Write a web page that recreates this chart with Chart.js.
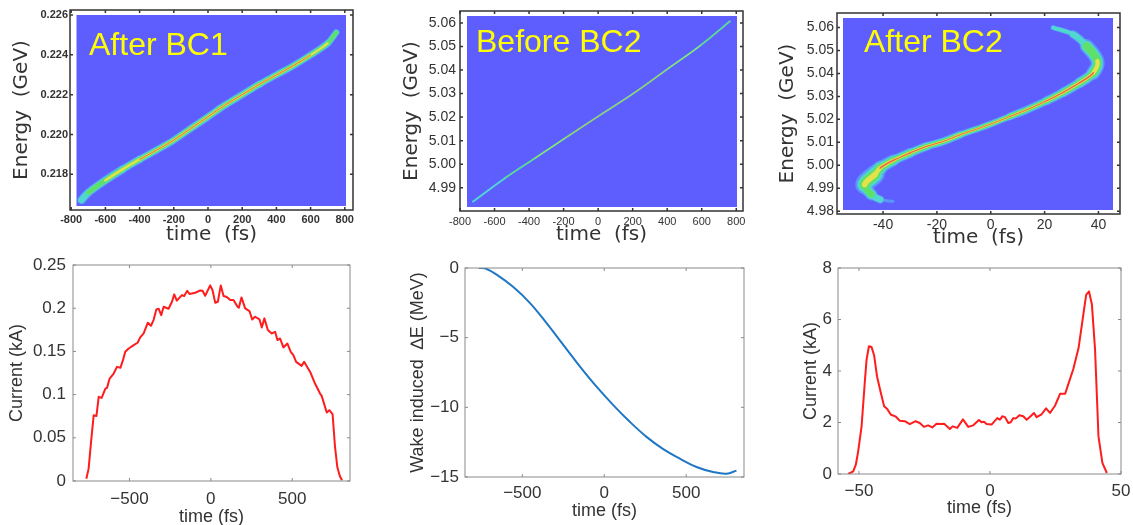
<!DOCTYPE html>
<html>
<head>
<meta charset="utf-8">
<script src="https://cdn.jsdelivr.net/npm/chart.js@4"></script>
<style>
html,body{margin:0;background:#fff;overflow:hidden}
#wrap{position:relative;width:1133px;height:525px;overflow:hidden}
.box{position:absolute}
.box canvas{filter:blur(.45px)}
.box.soft canvas{filter:blur(.5px)}
</style>
</head>
<body>
<div id="wrap"></div>
<script>
"use strict"
// phase space, After BC1
const t1 = [-740,-700,-600,-500,-400,-300,-200,-100,0,100,200,300,400,500,600,700,750]
const e1 = [.21671,.21708,.21770,.21825,.21875,.21922,.21972,.22031,.22089,.22148,.22200,.22252,.22299,.22346,.22399,.22458,.22512]
const spread1 = [.00042,.00042,.00042,.0004,.00038,.00038,.00038,.00038,.00038,.00038,.00038,.00036,.00036,.00036,.00036,.00034,.00026]
const density1 = [.2,.3,.55,.6,.75,.8,.9,.95,1,1,1,.95,.9,.75,.55,.35,.15]
// phase space, Before BC2
const t2 = [-725,-541,-367,-193,10,203,397,590,763]
const e2 = [4.9841,4.9940,5.0025,5.0110,5.0208,5.0300,5.0402,5.0503,5.0607]
const spread2 = [.0009,.0008,.0008,.0008,.0008,.0008,.0008,.0008,.0009]
const density2 = [.15,.4,.55,.75,.75,.75,.6,.4,.15]
// phase space, After BC2
const t3 = [-36.3,-41.1,-44.3,-46.8,-43.0,-41.1,-36.1,-29.9,-23.7,-17.6,-11.4,-5.2,1.0,7.2,13.4,20.8,27.0,33.1,38.1,39.6,35.6,30.6,23.2]
const e3 = [4.9843,4.9851,4.9873,4.9916,4.9960,4.9988,5.0022,5.0054,5.0083,5.0104,5.0133,5.0158,5.0184,5.0213,5.0242,5.0281,5.0318,5.0360,5.0403,5.0454,5.0519,5.0570,5.0599]
const spread3 = [.0013,.0035,.0052,.0083,.0065,.0052,.0043,.0039,.0035,.0035,.003,.003,.003,.0035,.0035,.0039,.0043,.0048,.0061,.0061,.0035,.0022,.0013]
const density3 = [.05,.15,.3,.5,.6,.72,.8,.85,.9,.9,.9,.9,.9,.9,.9,.9,.9,.85,.6,.45,.25,.15,.05]
// current profile, After BC1
const t4 = [-765,-751,-736,-720,-703,-689,-671,-648,-638,-622,-597,-577,-556,-540,-526,-505,-474,-450,-434,-413,-387,-368,-352,-335,-321,-305,-290,-260,-239,-225,-209,-178,-164,-145,-131,-96,-65,-51,-35,-4,10,27,43,61,78,98,119,139,164,172,188,211,237,254,272,299,313,329,350,374,395,409,425,446,470,491,507,524,558,573,613,640,671,681,712,728,748,763,777,793,806]
const i4 = [.0027,.0143,.0452,.0761,.0753,.0974,.0962,.1070,.1078,.1186,.1244,.1321,.1310,.1399,.1495,.1534,.1573,.1600,.1662,.1708,.1832,.1797,.1862,.1986,.1994,.1920,.2017,.1994,.2075,.2160,.2087,.2152,.2141,.2202,.2164,.2179,.2206,.2202,.2144,.2264,.2210,.2063,.2075,.2264,.2141,.2129,.2094,.2094,.2017,.2005,.2125,.1998,.1967,.1870,.1901,.1870,.1777,.1882,.1747,.1708,.1727,.1631,.1650,.1546,.1592,.1495,.1457,.1379,.1333,.1379,.1252,.1128,.1012,.0985,.0792,.0819,.0773,.0394,.0162,.0054,.0008]
// wake energy loss
const t5 = [-766,-728,-657,-555,-453,-352,-250,-148,-47,55,156,258,360,461,563,665,746,807]
const w5 = [0,-.02,-.48,-1.37,-2.52,-3.96,-5.52,-7.08,-8.52,-9.84,-11.04,-12.12,-13.0,-13.68,-14.28,-14.64,-14.76,-14.54]
// current profile, After BC2
const t6 = [-54.1,-52.2,-51.2,-50.3,-49.0,-47.8,-47.1,-46.2,-45.2,-44.2,-43.1,-41.8,-40.4,-39.2,-37.8,-36.1,-34.4,-32.5,-30.6,-28.4,-26.8,-25.2,-23.6,-22.0,-20.4,-18.5,-17.5,-15.3,-14.3,-12.5,-10.3,-8.3,-6.4,-4.2,-3.2,-2.3,-1.3,.6,2.8,3.8,4.7,5.7,7.0,7.9,8.9,9.9,11.2,12.7,14.0,15.5,16.8,17.8,19.7,21.4,22.9,24.8,26.8,28.7,31.8,33.8,36.7,37.8,38.9,40.1,41.4,42.9,44.6]
const i6 = [0,.10,.36,.88,1.85,3.53,4.44,4.96,4.93,4.60,3.79,3.21,2.63,2.52,2.30,2.24,2.07,2.05,1.94,2.05,1.98,1.83,1.89,1.81,1.95,1.94,1.95,1.75,1.85,1.79,2.12,1.83,1.89,2.10,2.01,2.03,1.94,1.92,2.17,2.11,2.24,2.21,1.98,2.01,2.17,2.16,2.28,2.24,2.11,2.24,2.37,2.21,2.32,2.55,2.37,2.65,3.12,3.12,4.08,4.89,6.96,7.09,6.58,4.83,1.46,.43,.04]
// ticks
const xTicksTop = [-800,-600,-400,-200,0,200,400,600,800]
const xLabelsTop = ["-800","-600","-400","-200","0","200","400","600","800"]
const yTicks1 = [.218,.220,.222,.224,.226]
const yLabels1 = ["0.218","0.220","0.222","0.224","0.226"]
const yTicks2 = [4.99,5.00,5.01,5.02,5.03,5.04,5.05,5.06]
const yLabels2 = ["4.99","5.00","5.01","5.02","5.03","5.04","5.05","5.06"]
const xTicks3 = [-40,-20,0,20,40]
const xLabels3 = ["-40","-20","0","20","40"]
const yTicks3 = [4.98,4.99,5.00,5.01,5.02,5.03,5.04,5.05,5.06]
const yLabels3 = ["4.98","4.99","5.00","5.01","5.02","5.03","5.04","5.05","5.06"]
const xTicksBottom = [-500,0,500]
const xLabelsBottom = ["\u2212500","0","500"]
const yTicks4 = [0,.05,.1,.15,.2,.25]
const yLabels4 = ["0","0.05","0.1","0.15","0.2","0.25"]
const yTicks5 = [-15,-10,-5,0]
const yLabels5 = ["\u221215","\u221210","\u22125","0"]
const xTicks6 = [-50,0,50]
const xLabels6 = ["\u221250","0","50"]
const yTicks6 = [0,2,4,6,8]
const yLabels6 = ["0","2","4","6","8"]

const sans = "'Liberation Sans'"
const wide = "'DejaVu Sans'"
// core first: chart.js paints the first dataset last
const layers = [
    {k:.12, min:.72, color:"#f25a50"},
    {k:.3, min:.5, color:"#e4e24a"},
    {k:.55, min:.3, color:"#5fe06a"},
    {k:.76, min:.12, color:"#50d8d0"},
    {k:1, min:0, color:"rgba(90,170,245,.75)"}
]

function cloud(x, y, spread, density){
    let pts = x.map((v,i) => ({x:v, y:y[i]}))
    return layers.map(l => ({
        data:pts, showLine:true, pointRadius:0, tension:.35, borderCapStyle:"round", borderJoinStyle:"round",
        borderColor:l.color, borderWidth:1,
        segment:{
            borderWidth: c => {
                let s = c.chart.scales.y
                return Math.abs(s.getPixelForValue(s.min) - s.getPixelForValue(s.min + spread[c.p0DataIndex])) * l.k
            },
            borderColor: c => density[c.p0DataIndex] >= l.min ? l.color : "rgba(0,0,0,0)"
        }
    }))
}
function trace(x, y, color, width, tension){
    return [{data:x.map((v,i) => ({x:v, y:y[i]})), showLine:true, pointRadius:0, tension:tension, borderColor:color, borderWidth:width, borderJoinStyle:"round"}]
}

// draws the blue field, the frame and the inward ticks on all four sides
const panelPlugin = {
    id:"panel",
    beforeDatasetsDraw(chart){
        let p = chart.options.plugins.panel, a = chart.chartArea, c = chart.ctx
        if(!p.field) return
        c.fillStyle = "#5e5eff"
        c.fillRect(a.left+p.field[0], a.top+p.field[1], a.width-p.field[0]-p.field[2], a.height-p.field[1]-p.field[3])
    },
    afterDatasetsDraw(chart){
        let p = chart.options.plugins.panel, a = chart.chartArea, c = chart.ctx
        c.save()
        c.strokeStyle = p.frame
        c.lineWidth = p.lw
        c.strokeRect(a.left, a.top, a.width, a.height)
        c.beginPath()
        chart.scales.x.ticks.forEach(t => {
            let x = chart.scales.x.getPixelForValue(t.value)
            c.moveTo(x, a.top); c.lineTo(x, a.top+p.tick)
            c.moveTo(x, a.bottom); c.lineTo(x, a.bottom-p.tick)
        })
        chart.scales.y.ticks.forEach(t => {
            let y = chart.scales.y.getPixelForValue(t.value)
            c.moveTo(a.left, y); c.lineTo(a.left+p.tick, y)
            c.moveTo(a.right, y); c.lineTo(a.right-p.tick, y)
        })
        c.stroke()
        if(p.text){
            c.fillStyle = "#ffff00"
            c.font = "32px " + sans
            c.textBaseline = "middle"
            c.fillText(p.text[0], p.text[1], p.text[2])
        }
        c.restore()
    }
}

function makeChart(o){
    let div = document.createElement("div")
    div.className = o.panel.field ? "box soft" : "box"
    let w = o.box[2]-o.box[0], h = o.box[3]-o.box[1]
    div.style.cssText = "left:"+o.box[0]+"px;top:"+o.box[1]+"px;width:"+w+"px;height:"+h+"px"
    let canvas = document.createElement("canvas")
    canvas.width = w
    canvas.height = h
    div.appendChild(canvas)
    document.getElementById("wrap").appendChild(div)
    let left = o.frame[0]-o.box[0], top = o.frame[1]-o.box[1]
    let right = o.box[2]-o.frame[2], bottom = o.box[3]-o.frame[3]
    let axis = (min, max, ticks, labels, tickFont, pad, title, titleFont, titlePad, size, horizontal) => ({
        type:"linear", min:min, max:max,
        grid:{display:false, drawTicks:false}, border:{display:false},
        afterBuildTicks: s => { s.ticks = ticks.map(v => ({value:v})) },
        afterFit: s => {
            if(horizontal) s.height = size; else s.width = size
            s.paddingLeft = s.paddingRight = s.paddingTop = s.paddingBottom = 0
        },
        ticks:{autoSkip:false, maxRotation:0, color:o.textColor, font:tickFont, padding:pad, callback:(v,i) => labels[i]},
        title:{display:true, text:title, color:o.textColor, font:titleFont, padding:titlePad}
    })
    return new Chart(canvas, {
        type:"scatter",
        data:{datasets:o.datasets},
        options:{
            responsive:false, animation:false, events:[],
            layout:{padding:{left:0, top:top, right:right, bottom:0}},
            plugins:{legend:{display:false}, tooltip:{enabled:false}, panel:o.panel},
            scales:{
                x:axis(o.x[0], o.x[1], o.xTicks, o.xLabels, o.xFont, o.xPad, o.xTitle, o.titleFont, {top:0, bottom:o.xTitlePad}, bottom, true),
                y:axis(o.y[0], o.y[1], o.yTicks, o.yLabels, o.yFont, o.yPad, o.yTitle, o.titleFont, {top:o.yTitlePad, bottom:0}, left, false)
            }
        },
        plugins:[panelPlugin]
    })
}

let topTitle = {family:wide, size:20}
let botTitle = {family:sans, size:18}
let botTick = {family:sans, size:17}

makeChart({
    box:[0,0,380,250], frame:[70,10,353,210], textColor:"#333",
    x:[-807,848], y:[.21621,.22625],
    xTicks:xTicksTop, xLabels:xLabelsTop, yTicks:yTicks1, yLabels:yLabels1,
    xFont:{family:sans, size:11, weight:"bold"}, yFont:{family:sans, size:11, weight:"bold"},
    xPad:3, yPad:2, xTitle:"time  (fs)", yTitle:"Energy  (GeV)", titleFont:topTitle, xTitlePad:3, yTitlePad:10,
    panel:{field:[6.5,5,7,4], frame:"#333", lw:1.5, tick:3, text:["After BC1",89,46]},
    datasets:cloud(t1,e1,spread1,density1)
})
makeChart({
    box:[380,0,760,250], frame:[460,11,743,211], textColor:"#333",
    x:[-800,839], y:[4.9801,5.0651],
    xTicks:xTicksTop, xLabels:xLabelsTop, yTicks:yTicks2, yLabels:yLabels2,
    xFont:{family:sans, size:11}, yFont:{family:sans, size:14},
    xPad:4, yPad:4, xTitle:"time  (fs)", yTitle:"Energy  (GeV)", titleFont:topTitle, xTitlePad:3, yTitlePad:20,
    panel:{field:[7,5,6,4], frame:"#333", lw:1.5, tick:3, text:["Before BC2",96,43]},
    datasets:cloud(t2,e2,spread2,density2)
})
makeChart({
    box:[760,0,1133,250], frame:[837,13,1120,214], textColor:"#333",
    x:[-57.1,48], y:[4.9788,5.0663],
    xTicks:xTicks3, xLabels:xLabels3, yTicks:yTicks3, yLabels:yLabels3,
    xFont:{family:sans, size:14}, yFont:{family:sans, size:14},
    xPad:3, yPad:3, xTitle:"time  (fs)", yTitle:"Energy  (GeV)", titleFont:topTitle, xTitlePad:0, yTitlePad:16,
    panel:{field:[6,5,7,4], frame:"#333", lw:1.5, tick:3, text:["After BC2",104,43]},
    datasets:cloud(t3,e3,spread3,density3)
})
makeChart({
    box:[0,250,380,532], frame:[73,265,350,481], textColor:"#333",
    x:[-847,855], y:[0,.25],
    xTicks:xTicksBottom, xLabels:xLabelsBottom, yTicks:yTicks4, yLabels:yLabels4,
    xFont:botTick, yFont:botTick,
    xPad:8, yPad:7, xTitle:"time (fs)", yTitle:"Current (kA)", titleFont:botTitle, xTitlePad:4, yTitlePad:6,
    panel:{frame:"#8a8a8a", lw:1, tick:3},
    datasets:trace(t4,i4,"#ff1c1c",2,0)
})
makeChart({
    box:[380,250,760,532], frame:[465,268,744,477], textColor:"#333",
    x:[-850,853], y:[-15,0],
    xTicks:xTicksBottom, xLabels:xLabelsBottom, yTicks:yTicks5, yLabels:yLabels5,
    xFont:botTick, yFont:botTick,
    xPad:6, yPad:6, xTitle:"time (fs)", yTitle:"Wake induced  \u2206E (MeV)", titleFont:botTitle, xTitlePad:10, yTitlePad:27,
    panel:{frame:"#8a8a8a", lw:1, tick:3},
    datasets:trace(t5,w5,"#1f77c4",2,.4)
})
makeChart({
    box:[760,250,1133,532], frame:[838,268,1121,474], textColor:"#333",
    x:[-58,50], y:[0,8],
    xTicks:xTicks6, xLabels:xLabels6, yTicks:yTicks6, yLabels:yLabels6,
    xFont:botTick, yFont:botTick,
    xPad:7, yPad:6, xTitle:"time (fs)", yTitle:"Current (kA)", titleFont:botTitle, xTitlePad:13, yTitlePad:40,
    panel:{frame:"#8a8a8a", lw:1, tick:3},
    datasets:trace(t6,i6,"#ff1c1c",2,0)
})
</script>
</body>
</html>
